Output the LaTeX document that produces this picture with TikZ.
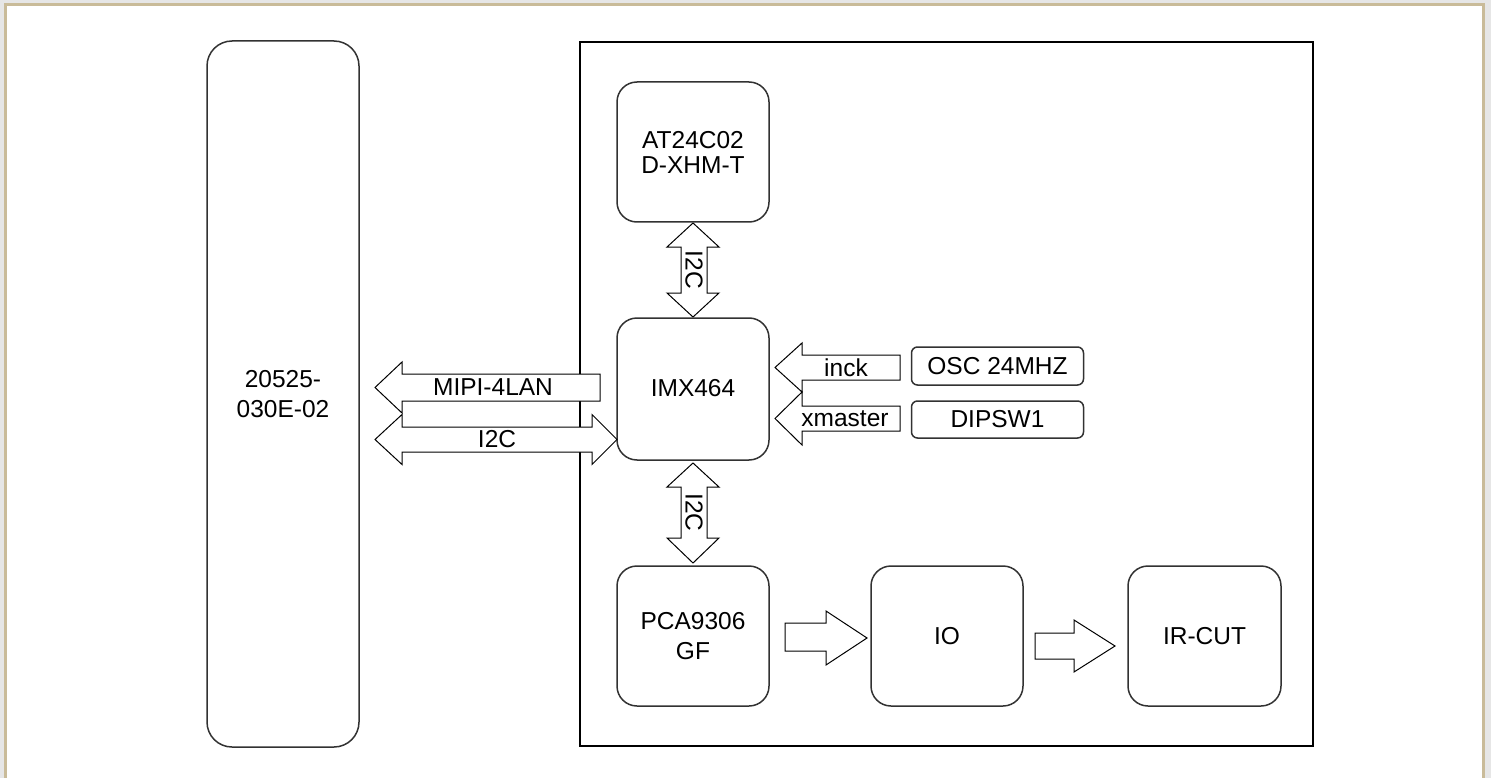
\documentclass[tikz,border=0pt]{standalone}
\usepackage{fontspec}
\setmainfont{Liberation Sans}
\definecolor{bggray}{RGB}{230,230,230}
\definecolor{beige}{RGB}{201,187,153}
\definecolor{boxline}{RGB}{50,50,50}
\begin{document}
\begin{tikzpicture}[x=1pt,y=-1pt,
  lbl/.style={font=\fontsize{24.5}{30}\selectfont, inner sep=0pt, align=center},
  blk/.style={draw=boxline, line width=1.5pt, rounded corners=20pt, fill=white,
              minimum width=152pt, minimum height=140pt, inner sep=0pt,
              font=\fontsize{24.5}{30}\selectfont, align=center},
  small/.style={draw=boxline, line width=1.5pt, rounded corners=6pt, fill=white,
              minimum width=172pt, minimum height=38pt, inner sep=0pt,
              font=\fontsize{24.5}{30}\selectfont},
  barrow/.style={draw=black, line width=1pt, fill=white, line join=miter}]
\useasboundingbox (0,0) rectangle (1491,778);
% page frame
\fill[bggray] (0,0) rectangle (1491,778);
\fill[beige] (4,3) rectangle (1485,778);
\fill[white] (7,6) rectangle (1482,778);
% big board rectangle
\draw[black, line width=1.5pt] (580,42) rectangle (1313,746);
% nodes
\node[blk, rounded corners=25pt, minimum height=706pt] (conn) at (283,394) {20525-\\030E-02};
\node[blk, font=\fontsize{24.5}{25}\selectfont] (at24) at (693,152) {AT24C02\\D-XHM-T};
\node[blk, minimum height=142pt] (imx) at (693,389) {\raisebox{3pt}{IMX464}};
\node[blk] (pca) at (693,636) {PCA9306\\GF};
\node[blk] (io) at (947,636) {IO};
\node[blk, minimum width=153pt] (ir) at (1204.5,636) {IR-CUT};
\node[small] (osc) at (997.5,366) {OSC 24MHZ};
\node[small, minimum height=37pt] (dip) at (997.5,419.5) {DIPSW1};
% block arrows
% inck (OSC -> IMX)
\draw[barrow] (775,367.5) -- (802,343) -- (802,355) -- (900,355) -- (900,380) -- (802,380) -- (802,392) -- cycle;
\node[lbl] (inck) at (846,367.5) {inck};
% xmaster (DIPSW -> IMX)
\draw[barrow] (775,418.5) -- (802,392) -- (802,406) -- (900,406) -- (900,431) -- (802,431) -- (802,445) -- cycle;
\node[lbl] (xm) at (845,418.5) {xmaster};
% MIPI (IMX -> connector)
\draw[barrow] (375,387.5) -- (402,362) -- (402,374) -- (600,374) -- (600,401) -- (402,401) -- (402,413) -- cycle;
\node[lbl] (mipi) at (493,387.5) {MIPI-4LAN};
% I2C horizontal (double)
\draw[barrow] (375,439.5) -- (402,414.5) -- (402,427) -- (592,427) -- (592,414.5) -- (617,439.5) -- (592,464.5) -- (592,452) -- (402,452) -- (402,464.5) -- cycle;
\node[lbl] (i2ch) at (497,439.5) {I2C};
% I2C vertical top (AT24 <-> IMX)
\draw[barrow] (693,223) -- (719,247) -- (707,247) -- (707,293) -- (719,293) -- (693,317) -- (667,293) -- (681,293) -- (681,247) -- (667,247) -- cycle;
\node[lbl, rotate=-90] (i2ct) at (694,270) {I2C};
% I2C vertical bottom (IMX <-> PCA)
\draw[barrow] (693,463) -- (719,487) -- (707,487) -- (707,538) -- (719,538) -- (693,563) -- (667,538) -- (681,538) -- (681,487) -- (667,487) -- cycle;
\node[lbl, rotate=-90] (i2cb) at (694,512.5) {I2C};
% PCA -> IO
\draw[barrow] (785,623) -- (826,623) -- (826,611) -- (867,638) -- (826,665) -- (826,651) -- (785,651) -- cycle;
% IO -> IR-CUT
\draw[barrow] (1035,633) -- (1074,633) -- (1074,620) -- (1115,646) -- (1074,672) -- (1074,659) -- (1035,659) -- cycle;
\end{tikzpicture}
\end{document}
